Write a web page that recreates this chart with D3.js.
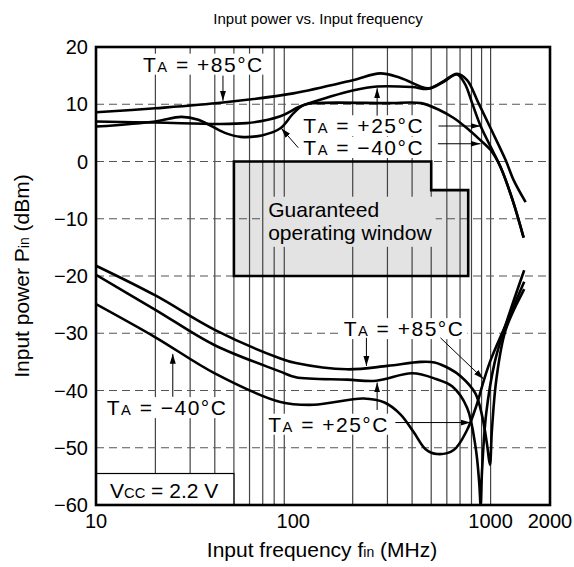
<!DOCTYPE html>
<html><head><meta charset="utf-8">
<script src="https://cdn.jsdelivr.net/npm/d3@7"></script>
<style>
body{margin:0;background:#fff}
svg{display:block}
text{font-family:"Liberation Sans",Arial,Helvetica,sans-serif;fill:#000}
</style>
</head><body>
<svg id="c" width="574" height="567"></svg>
<script>
// ---------- data ----------
const freqTickLabels = [10, 100, 1000, 2000];
const powerTicks = [20, 10, 0, -10, -20, -30, -40, -50, -60];
const dashedPower = [10, 0, -10, -20, -30, -40, -50];
const gridFreqs = [20,30,40,50,60,70,80,90,200,300,400,500,600,700,800,900,1000];

// maximum input power curves [MHz, dBm]
const max85 = [[10,8.6],[20,9.3],[44,10.3],[100,11.9],[200,14.2],[276,15.4],[350,14.6],[484,12.8],[570,13.9],[675,15.3],[760,14.2],[868,10.2],[1000,5.8],[1190,0.3],[1310,-3.3],[1505,-7.1]];
const max25 = [[10,7.0],[20,6.8],[58,6.7],[86,7.9],[108,9.6],[153,11.3],[200,12.4],[266,13.1],[400,13.0],[484,12.7],[570,13.8],[675,15.2],[740,13.6],[806,10.2],[890,6.2],[1020,2.0],[1124,-1.0],[1300,-7.0],[1470,-13.3]];
const max40 = [[10,6.1],[20,7.0],[27,7.8],[33,7.3],[45,5.0],[54,4.3],[70,4.6],[86,5.8],[100,8.4],[112,9.8],[130,10.2],[300,10.2],[443,10.2],[550,9.0],[650,7.6],[760,5.8],[870,4.0],[1000,2.0],[1124,-1.0],[1300,-7.0],[1470,-13.3]];
// minimum input power curves
const min85 = [[10,-18.2],[20,-23.4],[40,-29.4],[86,-34.4],[103,-35.2],[187,-36.3],[300,-35.7],[442,-35.0],[520,-35.1],[620,-36.2],[705,-37.5],[837,-40.5],[908,-44.6],[960,-49.5],[992,-53.0],[1015,-47],[1070,-38],[1190,-29.5],[1480,-22.3]];
const min25 = [[10,-19.8],[20,-25.9],[40,-32.1],[86,-36.7],[103,-37.7],[187,-38.1],[263,-38.3],[400,-37.0],[530,-38.0],[640,-39.3],[760,-43],[840,-50],[875,-56],[890,-60],[905,-54],[950,-44],[1050,-35],[1190,-28.6],[1480,-19.0]];
const min40 = [[10,-24.9],[20,-30.7],[40,-37.0],[86,-42.0],[127,-42.5],[227,-41.4],[290,-42.1],[350,-44.2],[408,-47.3],[470,-50.3],[536,-51.1],[650,-50.4],[760,-46.9],[850,-42.5],[921,-38.4],[1000,-34.7],[1190,-28.6],[1480,-21.0]];
// guaranteed operating window outline
const windowOutline = [[50,0],[500,0],[500,-5],[770,-5],[770,-20],[50,-20]];

// ---------- scales ----------
const svg = d3.select("#c");
const x = d3.scaleLog().domain([10, 2000]).range([96, 550]);
const y = d3.scaleLinear().domain([-60, 20]).range([505, 47]);
const X0 = x.range()[0], X1 = x.range()[1], Y0 = y.range()[1], Y1 = y.range()[0];

const defs = svg.append("defs");
defs.append("clipPath").attr("id","clip").append("rect")
  .attr("x",X0).attr("y",Y0).attr("width",X1-X0).attr("height",Y1-Y0);
defs.append("marker").attr("id","ah").attr("viewBox","0 -4 10 8")
  .attr("refX",10).attr("refY",0).attr("markerWidth",10).attr("markerHeight",8)
  .attr("markerUnits","userSpaceOnUse").attr("orient","auto")
  .append("path").attr("d","M0,-3L10,0L0,3Z").attr("fill","#000");

const plot = svg.append("g").attr("clip-path","url(#clip)");

// window fill
const poly = d => "M" + d.map(p => x(p[0]) + "," + y(p[1])).join("L") + "Z";
plot.append("path").attr("d", poly(windowOutline)).attr("fill","#e3e3e3");

// grid
plot.selectAll(".vg").data(gridFreqs).enter().append("line")
  .attr("x1",d=>x(d)).attr("x2",d=>x(d)).attr("y1",Y0).attr("y2",Y1)
  .attr("stroke","#444").attr("stroke-width",1.2);
plot.selectAll(".hg").data(dashedPower).enter().append("line")
  .attr("x1",X0).attr("x2",X1).attr("y1",d=>y(d)).attr("y2",d=>y(d))
  .attr("stroke","#555").attr("stroke-width",1.2).attr("stroke-dasharray","8,5");

// text with background
function label(parts, fx, fy, bg, fs, ls) {
  const g = svg.append("g");
  const t = g.append("text").attr("x", x(fx)).attr("y", y(fy)).attr("font-size", fs)
    .attr("letter-spacing", ls || 0);
  parts.forEach(p => t.append("tspan").attr("font-size", fs * p[1]).text(p[0]));
  const b = t.node().getBBox();
  g.insert("rect","text").attr("x",b.x-3).attr("y",b.y+1).attr("width",b.width+6).attr("height",b.height-2)
    .attr("fill",bg);
  return g;
}

// guaranteed window text
const gw = svg.append("g");
gw.append("rect").attr("x",x(72)).attr("y",y(-6.15)).attr("width",x(527)-x(72)).attr("height",y(-14.9)-y(-6.15)).attr("fill","#e3e3e3");
gw.append("text").attr("x",x(74.6)).attr("y",y(-9.75)).attr("font-size",21).text("Guaranteed");
gw.append("text").attr("x",x(74.6)).attr("y",y(-13.7)).attr("font-size",21).text("operating window");

// window border
plot.append("path").attr("d", poly(windowOutline)).attr("fill","none").attr("stroke","#000").attr("stroke-width",2.6);

// curves
const line = d3.line().x(d=>x(d[0])).y(d=>y(d[1])).curve(d3.curveCatmullRom.alpha(0.5));
[max85,max25,max40,min85,min25,min40].forEach(s => {
  plot.append("path").attr("d", line(s)).attr("fill","none").attr("stroke","#000").attr("stroke-width",2.6);
});

// Vcc box
svg.append("rect").attr("x",x(10)).attr("y",y(-54.5)).attr("width",x(50)-x(10)).attr("height",y(-60)-y(-54.5))
  .attr("fill","#fff").attr("stroke","#000").attr("stroke-width",1.2);
label([["V",1],["CC",0.7],[" = 2.2 V",1]], 11.78, -58.8, "#fff", 21);

// labels
const TA = s => [["T",1],["A",0.7],[" = "+s,1]];
const LF = 21, LS = 1.5;
label(TA("+85°C"), 17.3, 15.69, "#fff", LF, LS);
label(TA("+25°C"), 112.4, 4.93, "#fff", LF, LS);
label(TA("\u221240°C"), 112.4, 1.14, "#fff", LF, LS);
label(TA("+85°C"), 180, -30.5, "#fff", LF, LS);
label(TA("+25°C"), 74.6, -47.2, "#fff", LF, LS);
label(TA("\u221240°C"), 11.33, -44.3, "#fff", LF, LS);

// arrows [from, to] in data units
const arrows = [
  [[44,15.0],[44,10.6]],
  [[266,8.0],[266,12.8]],
  [[106,2.4],[86.9,5.8]],
  [[544,6.2],[889,6.2]],
  [[541,3.1],[889,3.1]],
  [[234.7,-30.8],[234.7,-35.7]],
  [[557,-30.8],[921,-38.0]],
  [[266,-43.4],[266,-38.6]],
  [[329,-45.6],[791,-45.6]],
  [[24.5,-41.1],[24.5,-33.6]]
];
svg.selectAll(".ar").data(arrows).enter().append("line")
  .attr("x1",d=>x(d[0][0])).attr("y1",d=>y(d[0][1])).attr("x2",d=>x(d[1][0])).attr("y2",d=>y(d[1][1]))
  .attr("stroke","#000").attr("stroke-width",1).attr("marker-end","url(#ah)");

// frame
svg.append("rect").attr("x",X0).attr("y",Y0).attr("width",X1-X0).attr("height",Y1-Y0)
  .attr("fill","none").attr("stroke","#000").attr("stroke-width",2.6);

// tick labels
const TF = 20;
svg.selectAll(".yt").data(powerTicks).enter().append("text")
  .attr("x",88).attr("y",d=>y(d)).attr("dy","0.36em").attr("text-anchor","end").attr("font-size",TF)
  .text(d => d < 0 ? "\u2212" + Math.abs(d) : d);
svg.selectAll(".xt").data(freqTickLabels).enter().append("text")
  .attr("x",d=>x(d)).attr("y",528).attr("text-anchor","middle").attr("font-size",TF)
  .text(d=>d);

// titles
svg.append("text").attr("x",318).attr("y",24).attr("text-anchor","middle").attr("font-size",15)
  .text("Input power vs. Input frequency");
const xt = svg.append("text").attr("x",322).attr("y",557).attr("text-anchor","middle").attr("font-size",21);
xt.append("tspan").text("Input frequency f");
xt.append("tspan").attr("font-size",14).text("in");
xt.append("tspan").text(" (MHz)");
const yt = svg.append("text").attr("transform","translate(29,276) rotate(-90)").attr("text-anchor","middle").attr("font-size",21);
yt.append("tspan").text("Input power P");
yt.append("tspan").attr("font-size",14).text("in");
yt.append("tspan").text(" (dBm)");
</script>
</body></html>
